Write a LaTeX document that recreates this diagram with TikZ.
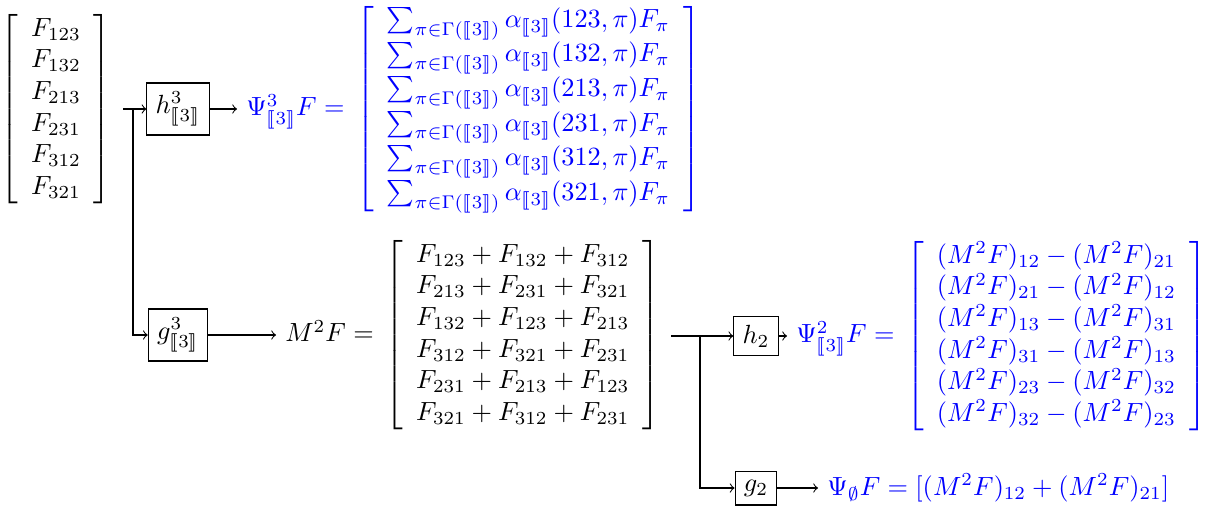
\documentclass[tikz,border=0pt]{standalone}
\usepackage{amsmath}
\usepackage{stmaryrd}
\usetikzlibrary{positioning}
\newcommand{\tbr}{\llbracket 3\rrbracket}
\begin{document}
\begin{tikzpicture}[x=0.3802pt, y=-0.3802pt,
  blk/.style={draw, inner sep=3.33pt},
  resnode/.style={text=blue, anchor=west},
  conn/.style={->}]
\useasboundingbox (0,0) rectangle (1209,509);
\node (v) at (56,109) {$\left[\begin{array}{c}F_{123}\\F_{132}\\F_{213}\\F_{231}\\F_{312}\\F_{321}\end{array}\right]$};
\node[blk] (h3) at (178,109) {$h^3_{\tbr}$};
\node[blk] (g3) at (178,335) {$g^3_{\tbr}$};
\node[resnode] (psi3) at (237,109) {$\Psi^3_{\tbr}F=\,\left[\begin{array}{c}
\sum_{\pi\in\Gamma(\tbr)}\alpha_{\tbr}(123,\pi)F_\pi\\
\sum_{\pi\in\Gamma(\tbr)}\alpha_{\tbr}(132,\pi)F_\pi\\
\sum_{\pi\in\Gamma(\tbr)}\alpha_{\tbr}(213,\pi)F_\pi\\
\sum_{\pi\in\Gamma(\tbr)}\alpha_{\tbr}(231,\pi)F_\pi\\
\sum_{\pi\in\Gamma(\tbr)}\alpha_{\tbr}(312,\pi)F_\pi\\
\sum_{\pi\in\Gamma(\tbr)}\alpha_{\tbr}(321,\pi)F_\pi
\end{array}\right]$};
\node[anchor=west] (m2) at (276,335) {$M^2F=\,\left[\begin{array}{c}
F_{123}+F_{132}+F_{312}\\
F_{213}+F_{231}+F_{321}\\
F_{132}+F_{123}+F_{213}\\
F_{312}+F_{321}+F_{231}\\
F_{231}+F_{213}+F_{123}\\
F_{321}+F_{312}+F_{231}
\end{array}\right]$};
\node[blk] (h2) at (756,336) {$h_2$};
\node[blk] (g2) at (756,488) {$g_2$};
\node[resnode] (psi2) at (787,336) {$\Psi^2_{\tbr}F=\,\left[\begin{array}{c}
(M^2F)_{12}-(M^2F)_{21}\\
(M^2F)_{21}-(M^2F)_{12}\\
(M^2F)_{13}-(M^2F)_{31}\\
(M^2F)_{31}-(M^2F)_{13}\\
(M^2F)_{23}-(M^2F)_{32}\\
(M^2F)_{32}-(M^2F)_{23}
\end{array}\right]$};
\node[resnode] (psi0) at (818,488) {$\Psi_{\emptyset}F=[(M^2F)_{12}+(M^2F)_{21}]$};
\coordinate (s1) at (123,109);
\coordinate (b1) at (133,109);
\coordinate (s2) at (671,336);
\coordinate (b2) at (700,336);
\draw[conn] (s1) -- (h3.west);
\draw[conn] (b1) |- (g3.west);
\draw[conn] (h3.east) -- (psi3.west);
\draw[conn] (g3.east) -- (m2.west);
\draw[conn] (s2) -- (h2.west);
\draw[conn] (b2) |- (g2.west);
\draw[conn] (h2.east) -- (psi2.west);
\draw[conn] (g2.east) -- (psi0.west);
\end{tikzpicture}
\end{document}
